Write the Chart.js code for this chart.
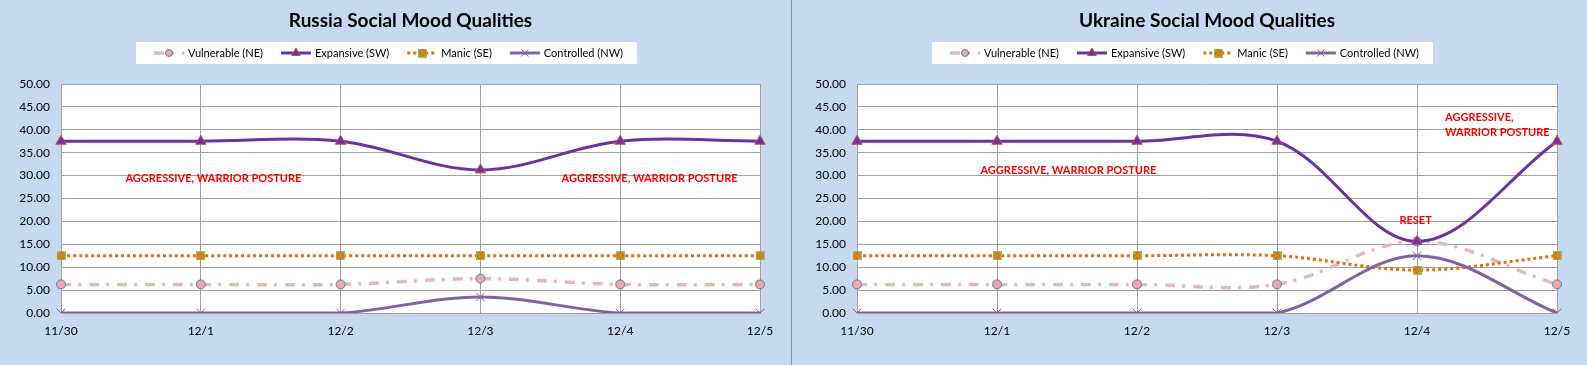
<!DOCTYPE html>
<html>
<head>
<meta charset="utf-8">
<script src="https://cdn.jsdelivr.net/npm/chart.js"></script>
<style>
body { margin: 0; background: #c6d9f1; width: 1587px; height: 365px; overflow: hidden; }
.pane { position: absolute; top: 0; height: 365px; }
#left { left: 0; width: 791px; border-right: 1px solid #8c8c8c; }
#right { left: 792px; width: 795px; }
</style>
</head>
<body>
<div class="pane" id="left"><canvas id="russiaChart" width="791" height="365"></canvas></div>
<div class="pane" id="right"><canvas id="ukraineChart" width="795" height="365"></canvas></div>
<script>
var days = ['11/30', '12/1', '12/2', '12/3', '12/4', '12/5'];
var seriesNames = ['Vulnerable (NE)', 'Expansive (SW)', 'Manic (SE)', 'Controlled (NW)'];

var russiaVulnerable = [6.25, 6.25, 6.25, 7.5, 6.25, 6.25];
var russiaExpansive = [37.5, 37.5, 37.5, 31.25, 37.5, 37.5];
var russiaManic = [12.5, 12.5, 12.5, 12.5, 12.5, 12.5];
var russiaControlled = [0, 0, 0, 3.5, 0, 0];

var ukraineVulnerable = [6.25, 6.25, 6.25, 6.25, 15.625, 6.25];
var ukraineExpansive = [37.5, 37.5, 37.5, 37.5, 15.625, 37.5];
var ukraineManic = [12.5, 12.5, 12.5, 12.5, 9.375, 12.5];
var ukraineControlled = [0, 0, 0, 0, 12.5, 0];

var FONT = 'Lato, "Liberation Sans", sans-serif';
var GRID = '#a0a0a0';

// square marker with green x, like excel
function manicMarker() {
  var c = document.createElement('canvas');
  c.width = 9; c.height = 9;
  var g = c.getContext('2d');
  g.fillStyle = '#e46c0a';
  g.fillRect(0, 0, 9, 9);
  g.strokeStyle = '#9bbb59';
  g.lineWidth = 1;
  g.strokeRect(0.5, 0.5, 8, 8);
  g.beginPath();
  g.moveTo(1, 1); g.lineTo(8, 8);
  g.moveTo(8, 1); g.lineTo(1, 8);
  g.stroke();
  return c;
}
var manicImg = manicMarker();

function makeDatasets(vul, exp, man, ctrl) {
  return [{
    label: seriesNames[0], data: vul, order: 4,
    borderColor: '#e6b9b8', borderWidth: 3.5, borderDash: [10, 7, 3, 8],
    pointStyle: 'circle', pointRadius: 4.5, pointBackgroundColor: '#f2a5a5',
    pointBorderColor: '#4f81bd', pointBorderWidth: 1
  }, {
    label: seriesNames[1], data: exp, order: 3,
    borderColor: '#7030a0', borderWidth: 3,
    pointStyle: 'triangle', pointRadius: 6, pointBackgroundColor: '#7030a0',
    pointBorderColor: '#c0504d', pointBorderWidth: 1
  }, {
    label: seriesNames[2], data: man, order: 2,
    borderColor: '#e46c0a', borderWidth: 3, borderDash: [3, 3],
    pointStyle: manicImg, pointRadius: 5, pointBackgroundColor: '#e46c0a',
    pointBorderColor: '#9bbb59', pointBorderWidth: 1
  }, {
    label: seriesNames[3], data: ctrl, order: 1,
    borderColor: '#8064a2', borderWidth: 3,
    pointStyle: 'crossRot', pointRadius: 6, pointBackgroundColor: '#8064a2',
    pointBorderColor: '#8064a2', pointBorderWidth: 1
  }];
}

var moodPlugin = {
  id: 'mood',
  beforeDraw: function(chart) {
    var a = chart.chartArea, ctx = chart.ctx;
    ctx.save();
    ctx.fillStyle = '#fff';
    ctx.fillRect(a.left, a.top, a.right - a.left, a.bottom - a.top);
    ctx.restore();
  },
  afterDraw: function(chart, args, opts) {
    var ctx = chart.ctx, area = chart.chartArea;
    ctx.save();
    // title
    ctx.font = 'bold 19px ' + FONT;
    ctx.fillStyle = '#000';
    ctx.textAlign = 'center';
    ctx.textBaseline = 'middle';
    ctx.fillText(opts.title, (area.left + area.right) / 2, 21);

    // legend with excel style line samples
    ctx.font = '11px ' + FONT;
    var sets = chart.data.datasets;
    var sample = 30, gap = 4, between = 18, padL = 18, padR = 14;
    var total = padL + padR + between * (sets.length - 1);
    sets.forEach(function(ds) { total += sample + gap + ctx.measureText(ds.label).width; });
    var bx = area.left + 75, by = 42, bh = 22, cy = by + bh / 2;
    ctx.fillStyle = '#fff';
    ctx.fillRect(bx, by, total, bh);
    var x = bx + padL;
    sets.forEach(function(ds) {
      ctx.save();
      ctx.strokeStyle = ds.borderColor;
      ctx.lineWidth = ds.borderWidth;
      ctx.setLineDash(ds.borderDash || []);
      ctx.beginPath();
      ctx.moveTo(x, cy); ctx.lineTo(x + sample, cy);
      ctx.stroke();
      ctx.setLineDash([]);
      ctx.fillStyle = ds.pointBackgroundColor;
      ctx.strokeStyle = ds.pointBorderColor;
      ctx.lineWidth = ds.pointBorderWidth;
      Chart.helpers.drawPoint(ctx, {pointStyle: ds.pointStyle, radius: ds.pointRadius - 1, borderWidth: 1, rotation: 0}, x + sample / 2, cy);
      ctx.restore();
      ctx.fillStyle = '#000';
      ctx.textAlign = 'left';
      ctx.textBaseline = 'middle';
      ctx.fillText(ds.label, x + sample + gap, cy);
      x += sample + gap + ctx.measureText(ds.label).width + between;
    });

    // red notes, placed in data units
    var xs = chart.scales.x, ys = chart.scales.y;
    ctx.font = 'bold 11px ' + FONT;
    ctx.fillStyle = '#ff0000';
    opts.notes.forEach(function(n) {
      ctx.textAlign = n.align || 'center';
      ctx.fillText(n.text, xs.getPixelForValue(n.x), ys.getPixelForValue(n.y));
    });
    ctx.restore();
  }
};

function renderChart(id, title, datasets, notes, yWidth, padRight) {
  return new Chart(id, {
    type: 'line',
    data: { labels: days, datasets: datasets },
    plugins: [moodPlugin],
    options: {
      responsive: false,
      animation: false,
      layout: { padding: { top: 84, right: padRight, bottom: 28, left: 0 } },
      elements: { line: { tension: 0.35, fill: false } },
      plugins: {
        legend: { display: false },
        title: { display: false },
        tooltip: { enabled: false },
        mood: { title: title, notes: notes }
      },
      scales: {
        x: {
          grid: { color: GRID, drawTicks: false },
          border: { color: GRID },
          ticks: { color: '#000', padding: 11, font: { size: 12, family: FONT } },
          afterFit: function(s) { s.height = 24; }
        },
        y: {
          min: 0, max: 50,
          grid: { color: GRID, drawTicks: false },
          border: { color: GRID },
          ticks: { stepSize: 5, color: '#000', padding: 11, font: { size: 12, family: FONT },
            callback: function(v) { return v.toFixed(2); } },
          afterFit: function(s) { s.width = yWidth; }
        }
      }
    }
  });
}

renderChart('russiaChart', 'Russia Social Mood Qualities',
  makeDatasets(russiaVulnerable, russiaExpansive, russiaManic, russiaControlled),
  [{ text: 'AGGRESSIVE, WARRIOR POSTURE', x: 1.09, y: 29.3 },
   { text: 'AGGRESSIVE, WARRIOR POSTURE', x: 4.21, y: 29.3 }],
  61, 31);

renderChart('ukraineChart', 'Ukraine Social Mood Qualities',
  makeDatasets(ukraineVulnerable, ukraineExpansive, ukraineManic, ukraineControlled),
  [{ text: 'AGGRESSIVE, WARRIOR POSTURE', x: 1.51, y: 31.1 },
   { text: 'RESET', x: 3.99, y: 20.2 },
   { text: 'AGGRESSIVE,', x: 4.2, y: 42.8, align: 'left' },
   { text: 'WARRIOR POSTURE', x: 4.2, y: 39.5, align: 'left' }],
  65, 30);
</script>
</body>
</html>
